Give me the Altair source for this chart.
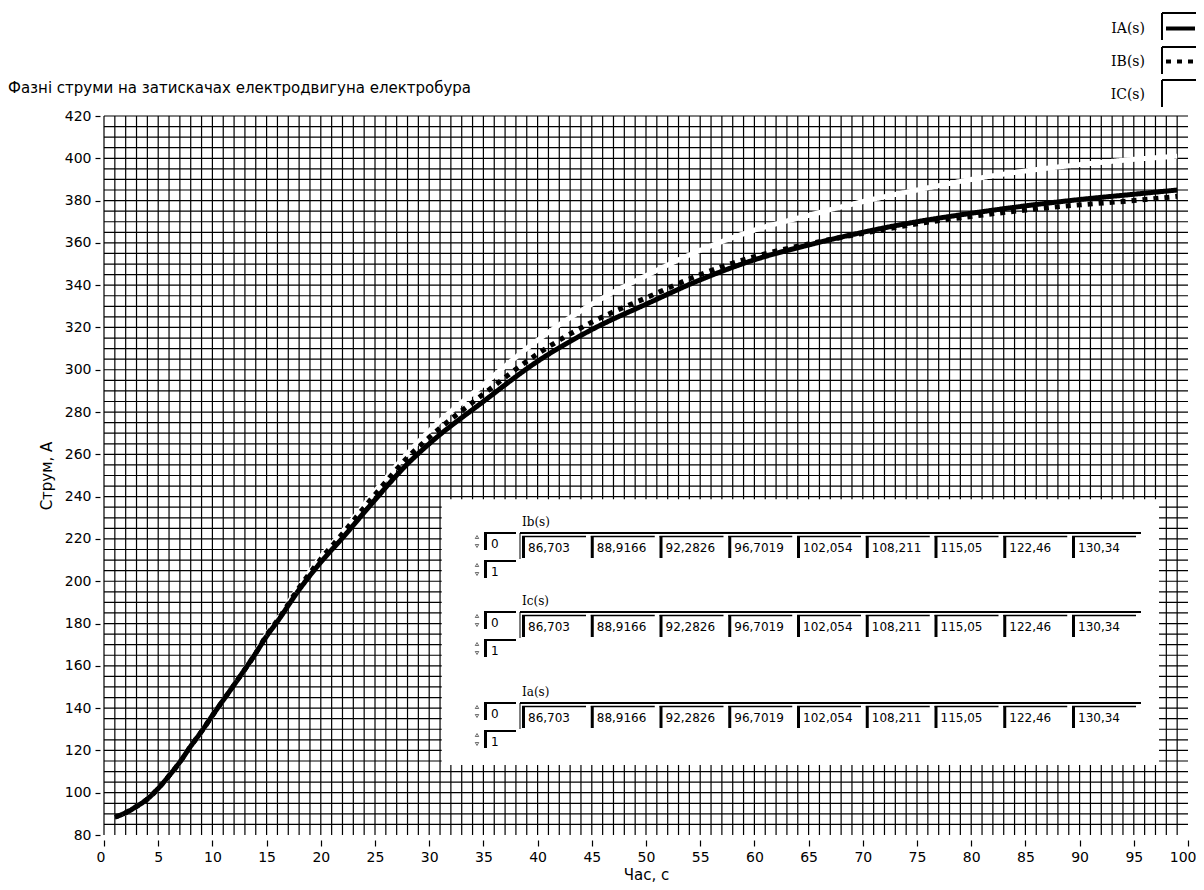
import altair as alt
import pandas as pd

# ---------------- data ----------------
time_s = [1, 2, 3, 4, 5, 6, 7, 8, 9, 10, 12, 14, 15, 16, 18, 20, 22, 25, 28, 30,
          35, 40, 45, 50, 55, 60, 65, 70, 75, 80, 85, 90, 95, 99]
ia_vals = [88.5, 90.5, 93.5, 97, 102, 108, 114.5, 122, 129, 136.5, 151, 166, 174, 181,
           196, 209, 220.5, 238.5, 255.5, 265, 285, 304, 319, 331, 342.5, 352, 359, 365,
           370, 374, 377.5, 380.5, 383, 385]
ib_vals = [88.5, 90.5, 93.5, 97, 102, 108, 114.5, 122, 129, 136.5, 151, 166, 174.5, 181.5,
           197, 210.5, 222.5, 241, 258.5, 268, 288.5, 307.5, 322.5, 334, 345, 353.5, 359.5,
           364.5, 369, 372.5, 375.5, 378, 380, 382]
ic_vals = [88.5, 90.5, 93.5, 97, 102, 108, 114.5, 122, 129, 136.5, 151, 166.5, 175, 182,
           197.5, 211.5, 223.5, 242.5, 260.5, 271, 293, 314, 331, 344.5, 356.5, 366, 373,
           379.5, 385, 390, 394, 397, 399.5, 401]

series_names = ["IA(s)", "IB(s)", "IC(s)"]
series_colors = ["#000000", "#000000", "#ffffff"]
series_dash = [[1, 0], [5, 6], [1, 0]]

table_names = ["Ib(s)", "Ic(s)", "Ia(s)"]
table_values = [86.703, 88.9166, 92.2826, 96.7019, 102.054, 108.211, 115.05, 122.46, 130.34]
index_values = [0, 1]

x_major_ticks = list(range(0, 101, 5))
y_major_ticks = list(range(80, 421, 20))
x_grid_values = list(range(0, 100))
y_grid_values = list(range(85, 421, 5))

title_text = "Фазні струми на затискачах електродвигуна електробура"
x_title = "Час, с"
y_title = "Струм, А"

# ---------------- layout ----------------
PLOT_LEFT, PLOT_TOP = 104, 116      # page pixels of the plot origin
PLOT_W, PLOT_H = 1084, 719
X0, X1 = 0, 100
Y0, Y1 = 80, 420
PAD = {"left": PLOT_LEFT - 8, "top": PLOT_TOP - 8, "right": 8,
       "bottom": 874 - (PLOT_TOP - 8) - PLOT_H}


def dx(px):
    return X0 + (px - PLOT_LEFT) / PLOT_W * (X1 - X0)


def dy(py):
    return Y1 - (py - PLOT_TOP) / PLOT_H * (Y1 - Y0)


FONT = "DejaVu Sans"
SERIF = "DejaVu Serif"

xs = alt.Scale(domain=[X0, X1], nice=False, zero=False)
ys = alt.Scale(domain=[Y0, Y1], nice=False, zero=False)

x_axis = alt.Axis(
    values=x_major_ticks, grid=False, domain=False,
    tickColor="#000000", tickWidth=1.2, tickSize=6, offset=5,
    labelFont=FONT, labelFontSize=14, labelColor="#000000", labelPadding=4,
    labelOverlap=False, labelFlush=True, labelFlushOffset=8,
    title=x_title, titleFont=FONT, titleFontSize=15, titleFontWeight="normal",
    titleColor="#000000", titlePadding=3,
)
y_axis = alt.Axis(
    values=y_major_ticks, grid=False, domain=False,
    tickColor="#000000", tickWidth=1.2, tickSize=5, offset=4,
    labelFont=FONT, labelFontSize=14, labelColor="#000000", labelPadding=4,
    labelOverlap=False,
    title=y_title, titleFont=FONT, titleFontSize=15, titleFontWeight="normal",
    titleColor="#000000", titlePadding=10,
)

legend = alt.Legend(
    title=None, orient="none", legendX=1060, legendY=-104, direction="vertical",
    symbolType="stroke", symbolSize=841, symbolStrokeWidth=4,
    labelAlign="right", labelOffset={"expr": "-52"}, labelFont=SERIF, labelFontSize=14,
    labelColor="#000000", rowPadding=8, padding=0,
)

rows = []
for name, vals in zip(series_names, [ia_vals, ib_vals, ic_vals]):
    for t, v in zip(time_s, vals):
        rows.append({"t": t, "current": v, "series": name})
curves = pd.DataFrame(rows)

col_scale = alt.Scale(domain=series_names, range=series_colors)
dash_scale = alt.Scale(domain=series_names, range=series_dash)

# ---------------- grid (LabVIEW style dense grid) ----------------
vgrid = alt.Chart(pd.DataFrame({"g": x_grid_values})).mark_rule(
    color="#000000", strokeWidth=1.2
).encode(x=alt.X("g:Q", scale=xs, axis=x_axis))
hgrid = alt.Chart(pd.DataFrame({"g": y_grid_values})).mark_rule(
    color="#000000", strokeWidth=1.2
).encode(y=alt.Y("g:Q", scale=ys, axis=y_axis))


def line_layer(name):
    return alt.Chart(curves).transform_filter(alt.datum.series == name).mark_line(
        strokeWidth=5, interpolate="monotone"
    ).encode(
        x=alt.X("t:Q", scale=xs, axis=x_axis),
        y=alt.Y("current:Q", scale=ys, axis=y_axis),
        color=alt.Color("series:N", scale=col_scale, legend=legend),
        strokeDash=alt.StrokeDash("series:N", scale=dash_scale, legend=legend),
    )


# draw white IC first, then dotted IB, then solid IA on top
lines = [line_layer("IC(s)"), line_layer("IB(s)"), line_layer("IA(s)")]

# ---------------- inset array indicator panel ----------------
panel = pd.DataFrame([{"x": dx(441.7), "x2": dx(1159), "y": dy(499.3), "y2": dy(765)}])
panel_layer = alt.Chart(panel).mark_rect(color="#ffffff").encode(
    x=alt.X("x:Q", scale=xs, axis=x_axis), x2="x2",
    y=alt.Y("y:Q", scale=ys, axis=y_axis), y2="y2",
)

row_tops = [533, 612, 703]
cell_left0, cell_step = 522, 68.75

rule_rows = []
label_rows, num_rows, idx_rows, up_rows, down_rows = [], [], [], [], []


def add_rule(x1, x2, y1, y2, w):
    rule_rows.append({"x": dx(x1), "x2": dx(x2), "y": dy(y1), "y2": dy(y2), "w": w})


for name, top in zip(table_names, row_tops):
    label_rows.append({"x": dx(522), "y": dy(top - 11), "text": name})
    add_rule(520, 1141, top, top, 2)
    add_rule(520, 520, top, top + 26, 1)
    for i, v in enumerate(table_values):
        left = cell_left0 + i * cell_step
        add_rule(left + 1.5, left + 1.5, top + 3, top + 25, 3)
        add_rule(left, left + 64, top + 3.5, top + 3.5, 1.5)
        num_rows.append({"x": dx(left + 6), "y": dy(top + 15),
                         "text": str(v).replace(".", ",")})
    for k, iv in enumerate(index_values):
        btop = top + 28 * k
        add_rule(484, 516, btop, btop, 2)
        add_rule(485.5, 485.5, btop, btop + 17, 3)
        idx_rows.append({"x": dx(491), "y": dy(btop + 11), "text": str(iv)})
        up_rows.append({"x": dx(477), "y": dy(btop + 4)})
        down_rows.append({"x": dx(477), "y": dy(btop + 13)})

# legend frames (LabVIEW style boxes around the legend samples)
for c in [28, 62, 95]:
    add_rule(1162, 1204, c - 15, c - 15, 2)
    add_rule(1162, 1162, c - 15, c + 12, 2)

rules_layer = alt.Chart(pd.DataFrame(rule_rows)).mark_rule(color="#000000").encode(
    x=alt.X("x:Q", scale=xs, axis=x_axis), x2="x2",
    y=alt.Y("y:Q", scale=ys, axis=y_axis), y2="y2",
    strokeWidth=alt.StrokeWidth("w:Q", scale=None, legend=None),
)


def text_layer(rows_, font, size):
    return alt.Chart(pd.DataFrame(rows_)).mark_text(
        align="left", baseline="middle", font=font, fontSize=size, color="#000000"
    ).encode(
        x=alt.X("x:Q", scale=xs, axis=x_axis),
        y=alt.Y("y:Q", scale=ys, axis=y_axis),
        text="text:N",
    )


def tri_layer(rows_, shape):
    return alt.Chart(pd.DataFrame(rows_)).mark_point(
        shape=shape, size=12, filled=False, strokeWidth=0.8, color="#000000"
    ).encode(
        x=alt.X("x:Q", scale=xs, axis=x_axis),
        y=alt.Y("y:Q", scale=ys, axis=y_axis),
    )


chart = alt.layer(
    vgrid, hgrid,
    *lines,
    panel_layer,
    rules_layer,
    text_layer(label_rows, SERIF, 12),
    text_layer(num_rows, FONT, 12),
    text_layer(idx_rows, FONT, 12),
    tri_layer(up_rows, "triangle-up"),
    tri_layer(down_rows, "triangle-down"),
).properties(
    width=PLOT_W, height=PLOT_H,
    padding=PAD,
    autosize=alt.AutoSizeParams(type="none"),
    background="#ffffff",
    title=alt.TitleParams(
        text=title_text, anchor="start", frame="group", dx=-(PLOT_LEFT - 8),
        offset=20, dy=104, font=FONT, fontSize=15, fontWeight="normal", color="#000000",
    ),
).configure_view(stroke=None)

chart.save("out.html", embed_options={"renderer": "svg", "actions": False})
